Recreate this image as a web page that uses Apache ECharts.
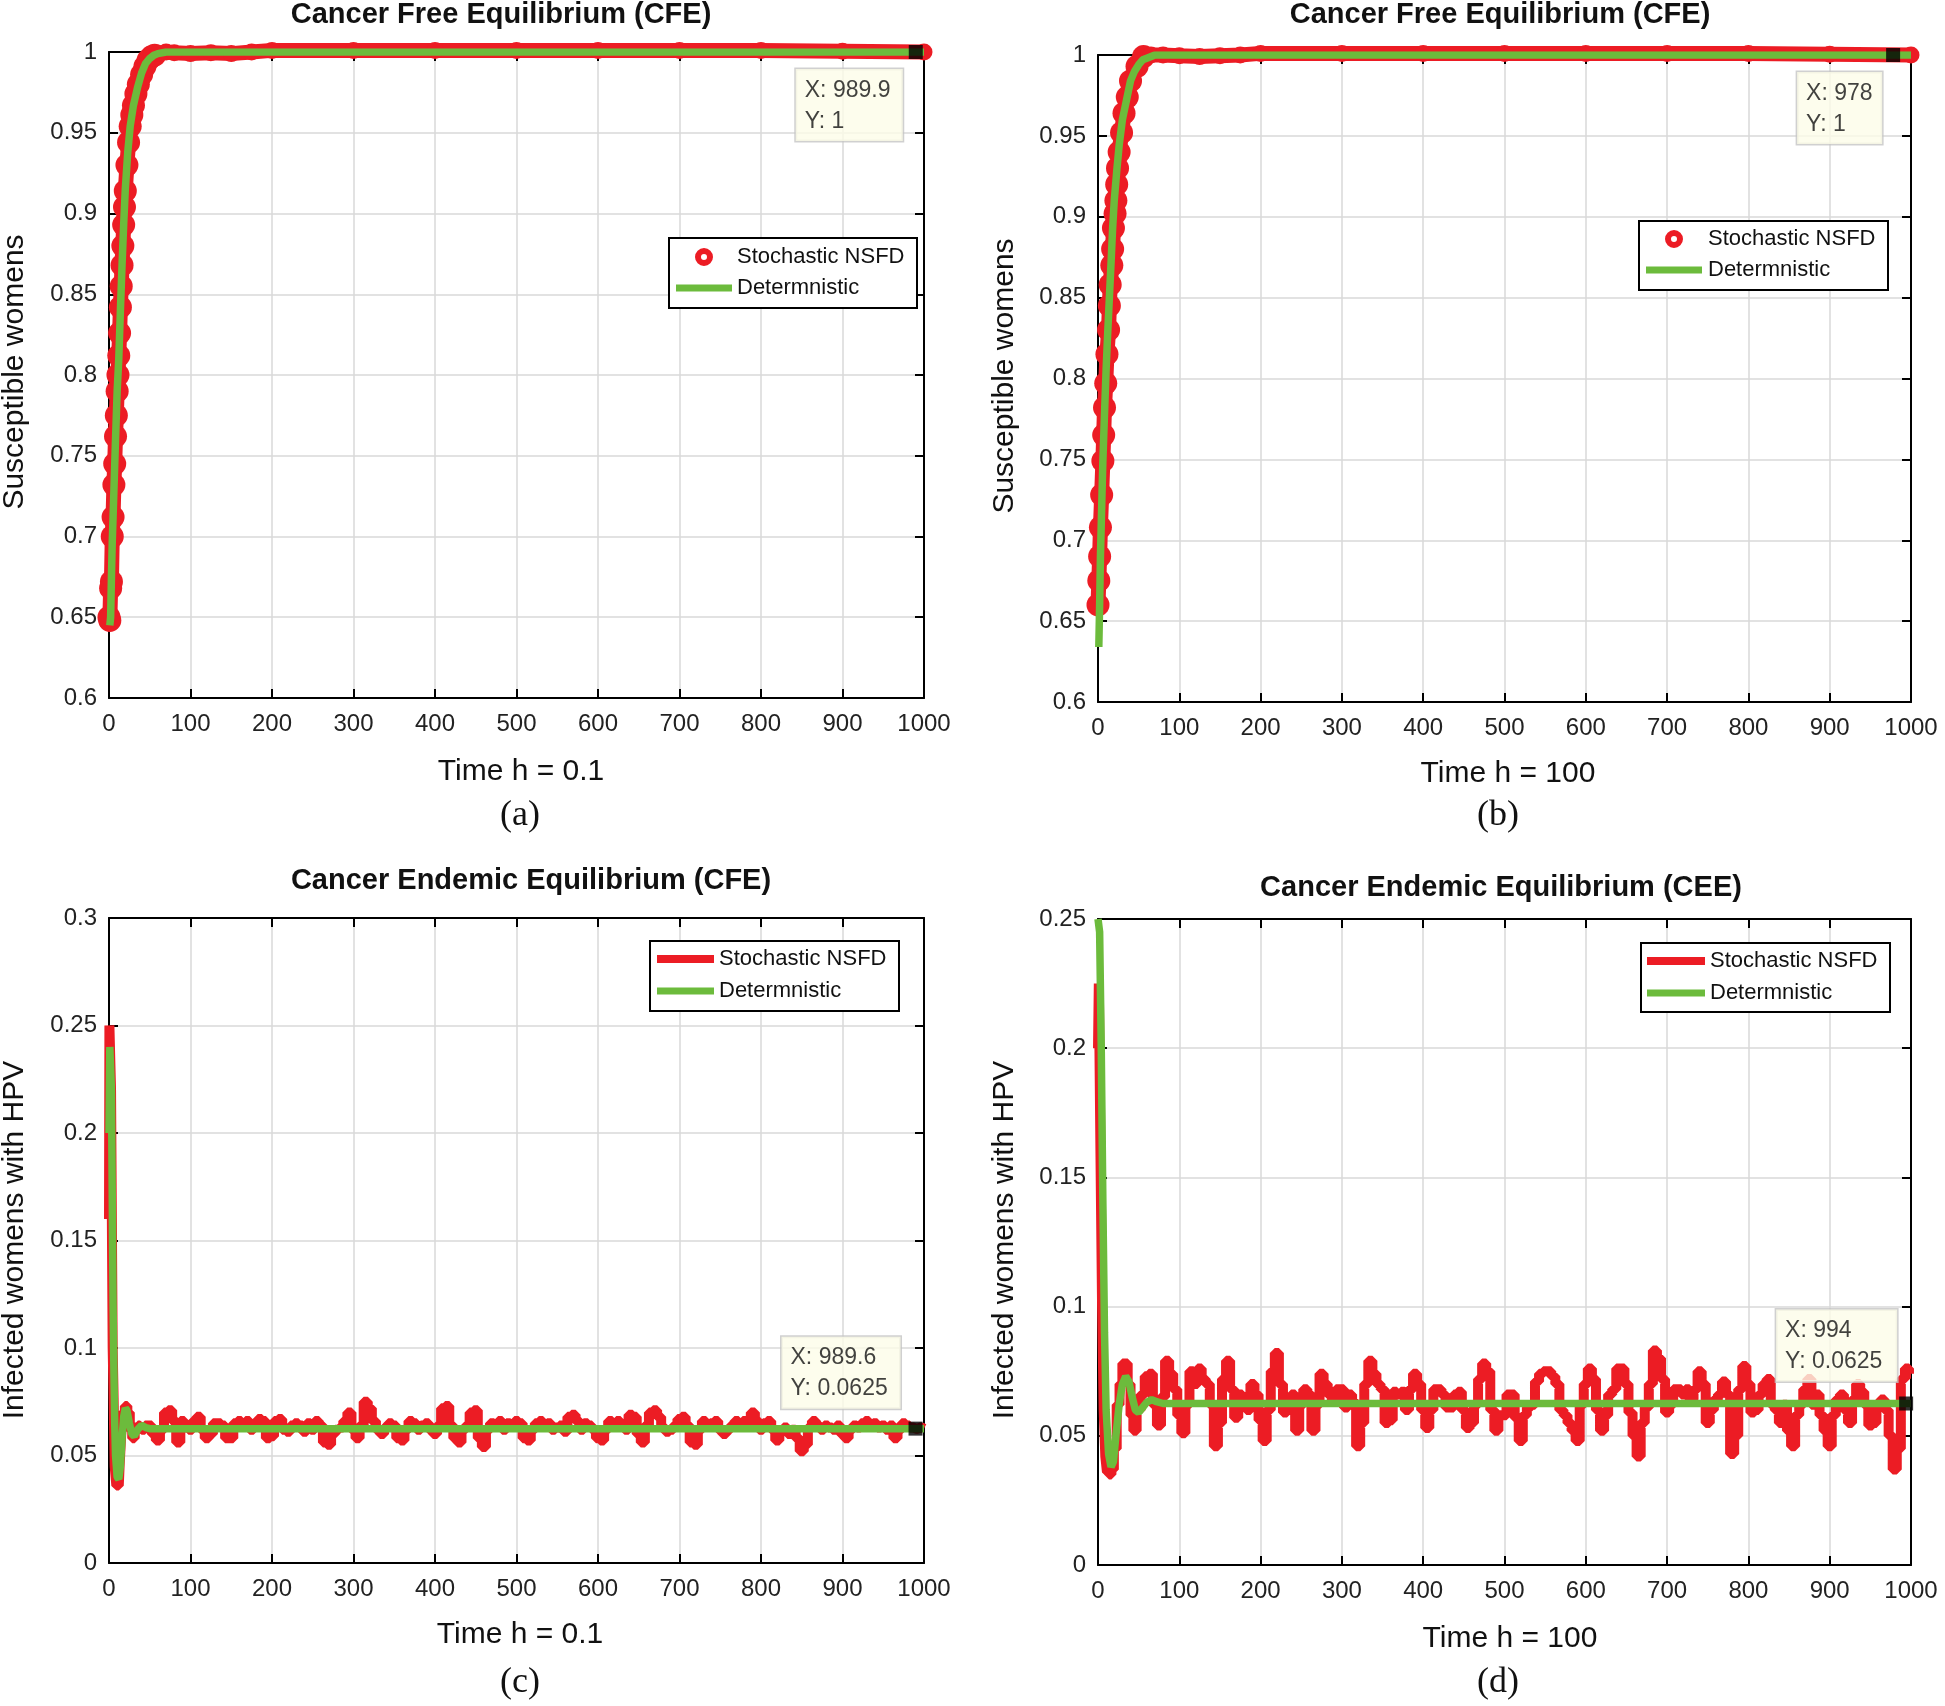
<!DOCTYPE html>
<html><head><meta charset="utf-8">
<script src="https://cdn.jsdelivr.net/npm/echarts@6/dist/echarts.min.js"></script>
<style>html,body{margin:0;padding:0;background:#fff}#c{width:1945px;height:1706px}</style>
</head><body><div id="c"></div>
<script>
// ---------------- DATA ----------------
// Panel (a) Susceptible, h = 0.1
const tRa = [0,1,2,3,4,5,6,7,8,9,10,11,12,13,14,15,16,17,18,19,20,22,24,26,28,30,33,36,40,44,48,52,56,60,70,80,100,125,150,175,200,300,400,500,600,700,800,900,1000];
const vRa = [0.650,0.648,0.668,0.672,0.700,0.712,0.732,0.745,0.762,0.775,0.790,0.800,0.812,0.826,0.842,0.855,0.868,0.880,0.893,0.904,0.914,0.930,0.944,0.954,0.961,0.967,0.974,0.980,0.986,0.991,0.995,0.997,0.998,0.999,1.0,0.9995,0.999,0.9995,0.999,1.0,1.001,1.001,1.001,1.001,1.001,1.001,1.001,1.0005,1.0];
const tGa = [1,2,3,4,5,6,8,10,12,14,16,18,20,23,26,30,35,40,45,50,55,60,70,80,1000];
const vGa = [0.645,0.650,0.675,0.697,0.712,0.728,0.760,0.790,0.810,0.840,0.868,0.893,0.915,0.938,0.954,0.967,0.978,0.987,0.993,0.996,0.998,0.999,1.0,1.0,1.0];
// Panel (b) Susceptible, h = 100
const tRb = [0,1,2,3,4.5,6,7,8,9.5,11,13,14,15,17,18,19,21,22,23,24,26,29,32,36,40,48,56,65,80,100,125,150,175,200,300,400,500,600,700,800,900,1000];
const vRb = [0.66,0.675,0.69,0.708,0.728,0.749,0.765,0.782,0.797,0.815,0.83,0.845,0.858,0.87,0.88,0.893,0.902,0.91,0.92,0.93,0.94,0.952,0.964,0.974,0.984,0.993,0.999,1.0,1.0,0.9995,0.999,0.9995,1.0,1.001,1.001,1.001,1.001,1.001,1.001,1.001,1.0005,1.0];
const tGb = [1,2,3,4,5,6,8,10,12,14,16,18,20,23,26,30,35,40,45,50,55,60,70,1000];
const vGb = [0.634,0.66,0.69,0.71,0.73,0.749,0.778,0.806,0.829,0.85,0.871,0.893,0.91,0.928,0.944,0.96,0.972,0.984,0.990,0.994,0.997,0.998,1.0,1.0];
// Panel (c) Infected, h = 0.1
const tRcEarly = [0,1,2,3,4,5,6,8,10,12,14,16,18,21,24,27,30,33,38,42,46];
const vRcEarly = [0.16,0.25,0.25,0.22,0.16,0.10,0.08,0.045,0.036,0.036,0.045,0.06,0.07,0.073,0.07,0.062,0.058,0.063,0.064,0.062,0.064];
const vRc = [ // t = 50, 55, ..., 1000
0.064,0.060,0.057,0.062,0.070,0.071,0.066,0.056,0.066,0.063,
0.062,0.066,0.068,0.062,0.058,0.060,0.065,0.065,0.064,0.058,
0.058,0.065,0.066,0.065,0.066,0.062,0.064,0.067,0.066,0.058,
0.059,0.066,0.067,0.062,0.061,0.064,0.065,0.064,0.061,0.065,
0.062,0.066,0.064,0.056,0.055,0.060,0.062,0.063,0.066,0.070,
0.062,0.058,0.064,0.075,0.072,0.066,0.062,0.060,0.063,0.065,
0.064,0.058,0.057,0.062,0.066,0.065,0.062,0.064,0.065,0.062,
0.060,0.064,0.072,0.073,0.064,0.058,0.056,0.062,0.064,0.070,
0.071,0.058,0.054,0.062,0.065,0.064,0.066,0.062,0.065,0.064,
0.066,0.065,0.058,0.057,0.062,0.065,0.066,0.064,0.065,0.062,
0.063,0.064,0.061,0.068,0.069,0.066,0.062,0.065,0.064,0.062,
0.058,0.057,0.062,0.066,0.065,0.066,0.064,0.062,0.069,0.068,
0.060,0.056,0.064,0.070,0.071,0.068,0.063,0.061,0.062,0.064,
0.067,0.068,0.064,0.056,0.055,0.062,0.066,0.064,0.065,0.066,
0.062,0.060,0.062,0.064,0.066,0.065,0.066,0.064,0.070,0.066,
0.062,0.065,0.066,0.062,0.057,0.061,0.063,0.060,0.062,0.058,
0.052,0.055,0.063,0.066,0.064,0.062,0.064,0.063,0.062,0.064,
0.060,0.058,0.062,0.064,0.063,0.065,0.066,0.064,0.065,0.063,
0.064,0.062,0.064,0.058,0.062,0.065,0.064,0.063,0.0625,0.063,
0.0625];
const tGc = [0,1,2,3,4,5,6,7,8,10,12,14,16,18,20,22,25,28,31,35,40,45,50,60,1000];
const vGc = [0.20,0.24,0.24,0.22,0.17,0.12,0.09,0.065,0.05,0.04,0.039,0.045,0.058,0.068,0.072,0.071,0.065,0.060,0.059,0.062,0.064,0.063,0.0625,0.0625,0.0625];
// Panel (d) Infected, h = 100
const tRdEarly = [0,2,4,6,8,10,12,15,18,21,25,28,32,35,38,42,45];
const vRdEarly = [0.20,0.225,0.16,0.10,0.06,0.042,0.036,0.035,0.037,0.045,0.062,0.07,0.078,0.078,0.07,0.058,0.052];
const vRd = [ // t = 50, 55, ..., 1000
0.060,0.066,0.073,0.074,0.062,0.054,0.065,0.079,0.074,0.068,
0.058,0.051,0.062,0.075,0.070,0.076,0.072,0.070,0.062,0.046,
0.055,0.072,0.079,0.068,0.057,0.066,0.065,0.060,0.070,0.066,
0.056,0.048,0.060,0.075,0.082,0.070,0.059,0.062,0.066,0.052,
0.062,0.068,0.066,0.052,0.062,0.074,0.070,0.066,0.064,0.068,
0.068,0.061,0.066,0.063,0.046,0.055,0.070,0.079,0.074,0.070,
0.068,0.055,0.056,0.067,0.066,0.067,0.060,0.068,0.074,0.070,
0.060,0.053,0.060,0.068,0.068,0.066,0.061,0.061,0.066,0.067,
0.060,0.053,0.055,0.062,0.072,0.078,0.075,0.060,0.052,0.058,
0.058,0.066,0.066,0.057,0.048,0.058,0.061,0.062,0.071,0.074,
0.075,0.075,0.073,0.070,0.060,0.058,0.055,0.052,0.048,0.062,
0.070,0.076,0.072,0.060,0.052,0.058,0.066,0.068,0.076,0.076,
0.070,0.059,0.050,0.042,0.055,0.061,0.070,0.083,0.080,0.072,
0.059,0.062,0.068,0.068,0.066,0.068,0.064,0.068,0.075,0.070,
0.055,0.060,0.064,0.066,0.071,0.066,0.043,0.050,0.068,0.077,
0.070,0.059,0.060,0.066,0.070,0.072,0.062,0.060,0.055,0.062,
0.052,0.046,0.058,0.062,0.068,0.072,0.062,0.066,0.058,0.052,
0.046,0.058,0.064,0.066,0.060,0.055,0.064,0.070,0.067,0.062,
0.054,0.055,0.062,0.064,0.060,0.050,0.037,0.045,0.072,0.076,
0.074];
const tGd = [0,2,4,6,8,10,13,16,19,22,26,30,34,38,42,46,50,55,60,66,72,80,1000];
const vGd = [0.25,0.245,0.20,0.14,0.09,0.06,0.043,0.038,0.040,0.05,0.062,0.070,0.073,0.071,0.065,0.060,0.059,0.061,0.063,0.064,0.0632,0.0625,0.0625];
const uniformStart = 50, uniformStep = 5;
// data tips
const tips = [[989.9, 1], [978, 1], [989.6, 0.0625], [994, 0.0625]];
// axes
const xRange = [0, 1000, 100];
const yRanges = [[0.6, 1, 0.05], [0.6, 1, 0.05], [0, 0.3, 0.05], [0, 0.25, 0.05]];
const titles = ['Cancer Free Equilibrium (CFE)', 'Cancer Free Equilibrium (CFE)', 'Cancer Endemic Equilibrium (CFE)', 'Cancer Endemic Equilibrium (CEE)'];
const xNames = ['Time h = 0.1', 'Time h = 100', 'Time h = 0.1', 'Time h = 100'];
const yNames = ['Susceptible womens', 'Susceptible womens', 'Infected womens with HPV', 'Infected womens with HPV'];
const letters = ['(a)', '(b)', '(c)', '(d)'];
const seriesNames = ['Stochastic NSFD', 'Determnistic'];

// ---------------- BUILD ----------------
const RED = '#ec1c24', GREEN = '#6cbb3c';
const FONT = "'Liberation Sans', Arial, sans-serif";
const zip = (t, v) => t.map((x, i) => [x, v[i]]);
const uni = v => v.map((y, i) => [uniformStart + i * uniformStep, y]);

const redData = [zip(tRa, vRa), zip(tRb, vRb), zip(tRcEarly, vRcEarly).concat(uni(vRc)), zip(tRdEarly, vRdEarly).concat(uni(vRd))];
const greenData = [zip(tGa, vGa), zip(tGb, vGb), zip(tGc, vGc), zip(tGd, vGd)];

const grids = [
  {left: 109, top: 52, width: 815, height: 646},
  {left: 1098, top: 55, width: 813, height: 647},
  {left: 109, top: 918, width: 815, height: 645},
  {left: 1098, top: 919, width: 813, height: 646}
];
// [offsetX from symbol left, offsetY from symbol top, verticalAlign, inner width]
const tipPos = [[-113, 24, 'top', 89], [-89, 24, 'top', 67], [-127, -13, 'bottom', 101], [-123, -15, 'bottom', 103]];

const axisLine = {show: true, onZero: false, lineStyle: {color: '#000', width: 2}};
const axisTick = {show: true, inside: true, length: 9, lineStyle: {color: '#000', width: 2}};
const split = {show: true, lineStyle: {color: '#d9d9d9', width: 1.5}};
const lab = {fontSize: 24, color: '#222', fontFamily: FONT, formatter: v => String(+v.toFixed(4))};

const xAxis = [], yAxis = [], series = [];
grids.forEach((g, i) => {
  const yr = yRanges[i];
  xAxis.push({type: 'value', gridIndex: i, min: xRange[0], max: xRange[1], interval: xRange[2], position: 'bottom',
    axisLine, axisTick, axisLabel: Object.assign({margin: 14}, lab), splitLine: split});
  xAxis.push({type: 'value', gridIndex: i, min: xRange[0], max: xRange[1], interval: xRange[2], position: 'top',
    axisLine, axisTick, axisLabel: {show: false}, splitLine: {show: false}});
  yAxis.push({type: 'value', gridIndex: i, min: yr[0], max: yr[1], interval: yr[2], position: 'left',
    axisLine, axisTick, axisLabel: Object.assign({margin: 12}, lab), splitLine: split});
  yAxis.push({type: 'value', gridIndex: i, min: yr[0], max: yr[1], interval: yr[2], position: 'right',
    axisLine, axisTick, axisLabel: {show: false}, splitLine: {show: false}});
  const marker = i < 2;
  series.push({
    name: seriesNames[0], type: 'line', xAxisIndex: 2 * i, yAxisIndex: 2 * i, data: redData[i],
    symbol: marker ? 'circle' : 'none', symbolSize: v => (v[0] > 58 ? 17 : 23), showSymbol: marker, showAllSymbol: true,
    step: marker ? false : 'middle', clip: !marker,
    itemStyle: {color: RED}, lineStyle: {color: RED, width: marker ? 15 : 10}, z: 2, silent: true
  });
  series.push({
    name: seriesNames[1], type: 'line', xAxisIndex: 2 * i, yAxisIndex: 2 * i, data: greenData[i],
    symbol: 'none', lineStyle: {color: GREEN, width: 7.5}, z: 3, silent: true
  });
  const tp = tipPos[i];
  series.push({
    type: 'scatter', xAxisIndex: 2 * i, yAxisIndex: 2 * i, data: [tips[i]], symbol: 'rect', symbolSize: 14,
    itemStyle: {color: '#000'}, z: 6, clip: false, silent: true,
    label: {show: true, formatter: p => 'X: ' + p.value[0] + '\nY: ' + p.value[1],
      position: [tp[0], tp[1]], align: 'left', verticalAlign: tp[2], width: tp[3],
      backgroundColor: '#fdfde9', borderColor: '#c4c4c4', borderWidth: 1.5, padding: [6, 9, 4, 9],
      fontSize: 23, lineHeight: 31, color: '#111', fontFamily: FONT}
  });
});

// texts
const graphic = [];
const txt = (text, x, y, font, rot) => ({type: 'text', x, y, rotation: rot || 0, z: 20,
  style: {text, font, fill: '#111', align: 'center', verticalAlign: 'middle'}});
const titlePos = [[501, 15], [1500, 15], [531, 881], [1501, 888]];
const xNamePos = [[521, 772], [1508, 774], [520, 1635], [1510, 1639]];
const yNamePos = [[15, 372], [1005, 376], [15, 1240], [1005, 1240]];
const letterPos = [[520, 816], [1498, 816], [520, 1683], [1498, 1683]];
for (let i = 0; i < 4; i++) {
  graphic.push(txt(titles[i], titlePos[i][0], titlePos[i][1], 'bold 29px ' + FONT));
  graphic.push(txt(xNames[i], xNamePos[i][0], xNamePos[i][1], '30px ' + FONT));
  graphic.push(txt(yNames[i], yNamePos[i][0], yNamePos[i][1], '30px ' + FONT, Math.PI / 2));
  graphic.push(txt(letters[i], letterPos[i][0], letterPos[i][1], '36px "Liberation Serif", "Times New Roman", serif'));
}
// legends: [boxX, boxY, boxW, boxH, row1Y, row2Y, iconX0, iconX1, textX]
const legBoxes = [
  [669, 238, 248, 70, 257, 288, 676, 732, 737],
  [1639, 221, 249, 69, 239, 270, 1646, 1702, 1708],
  [650, 941, 249, 70, 959, 991, 657, 714, 719],
  [1641, 943, 249, 69, 961, 993, 1647, 1705, 1710]
];
legBoxes.forEach((b, i) => {
  graphic.push({type: 'rect', z: 15, shape: {x: b[0], y: b[1], width: b[2], height: b[3]},
    style: {fill: '#fff', stroke: '#000', lineWidth: 2}});
  if (i < 2) {
    graphic.push({type: 'circle', z: 16, shape: {cx: (b[6] + b[7]) / 2, cy: b[4], r: 6},
      style: {fill: '#fff', stroke: RED, lineWidth: 6}});
  } else {
    graphic.push({type: 'line', z: 16, shape: {x1: b[6], y1: b[4], x2: b[7], y2: b[4]},
      style: {stroke: RED, lineWidth: 8}});
  }
  graphic.push({type: 'line', z: 16, shape: {x1: b[6], y1: b[5], x2: b[7], y2: b[5]},
    style: {stroke: GREEN, lineWidth: 7}});
  graphic.push({type: 'text', z: 16, x: b[8], y: b[4], style: {text: seriesNames[0], font: '22px ' + FONT, fill: '#111', align: 'left', verticalAlign: 'middle'}});
  graphic.push({type: 'text', z: 16, x: b[8], y: b[5], style: {text: seriesNames[1], font: '22px ' + FONT, fill: '#111', align: 'left', verticalAlign: 'middle'}});
});

const chart = echarts.init(document.getElementById('c'), null, {renderer: 'canvas'});
chart.setOption({animation: false, backgroundColor: '#fff', grid: grids, xAxis, yAxis, series, graphic});
</script></body></html>
